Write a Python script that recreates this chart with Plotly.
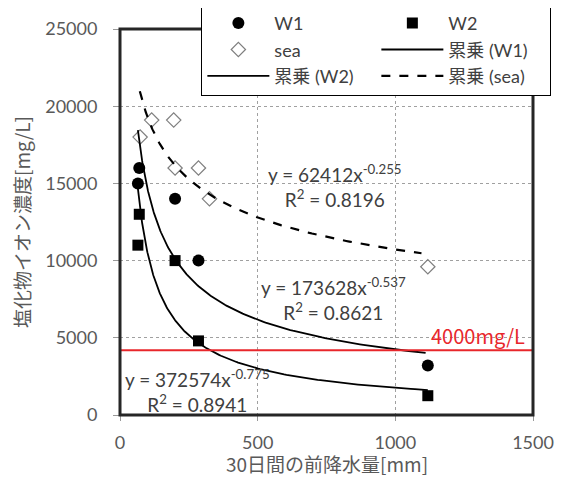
import numpy as np
import plotly.graph_objects as go

# ---- data ----
x_w1 = [65, 70, 200, 285, 1118]
y_w1 = [15000, 16000, 14000, 10000, 3200]

x_w2 = [70, 65, 200, 285, 1118]
y_w2 = [13000, 11000, 10000, 4800, 1250]

x_sea = [73, 115, 195, 200, 285, 325, 1118]
y_sea = [18000, 19100, 19100, 16000, 16000, 14000, 9600]

# power trendlines shown on the chart (y = a * x^b)
fit_w1 = (173628, -0.537, 0.8621)
fit_w2 = (372574, -0.775, 0.8941)
fit_sea = (62412, -0.255, 0.8196)
curve_x_range = {"w1": (65, 1110), "w2": (65, 1118), "sea": (72, 1095)}

threshold = 4200
threshold_label = "4000mg/L"

x_ticks = [0, 500, 1000, 1500]
x_ticktext = ["0", "500", "1000", "1500"]
y_ticks = [0, 5000, 10000, 15000, 20000, 25000]
y_ticktext = ["0", "5000", "10000", "15000", "20000", "25000"]
x_title = "30日間の前降水量[mm]"
y_title = "塩化物イオン濃度[mg/L]"

LATIN = "Lato, 'Noto Sans CJK JP', sans-serif"
CJK = "'Noto Sans CJK JP', sans-serif"
GREY = "#595959"


def trend(fit, rng):
    a, b, _ = fit
    xs = np.geomspace(rng[0], rng[1], 200)
    return xs, a * xs ** b


fig = go.Figure()

fig.add_trace(go.Scatter(x=x_w1, y=y_w1, mode="markers", name="W1",
                         marker=dict(symbol="circle", size=12, color="black")))
fig.add_trace(go.Scatter(x=x_w2, y=y_w2, mode="markers", name="W2",
                         marker=dict(symbol="square", size=11, color="black")))
fig.add_trace(go.Scatter(x=x_sea, y=y_sea, mode="markers", name="sea",
                         marker=dict(symbol="diamond-open", size=11,
                                     color="#7f7f7f", line=dict(width=1.2))))

cx, cy = trend(fit_w1, curve_x_range["w1"])
fig.add_trace(go.Scatter(x=cx, y=cy, mode="lines", name="累乗 (W1)",
                         line=dict(color="black", width=1.8)))
cx, cy = trend(fit_w2, curve_x_range["w2"])
fig.add_trace(go.Scatter(x=cx, y=cy, mode="lines", name="累乗 (W2)",
                         line=dict(color="black", width=1.8)))
cx, cy = trend(fit_sea, curve_x_range["sea"])
fig.add_trace(go.Scatter(x=cx, y=cy, mode="lines", name="累乗 (sea)",
                         line=dict(color="black", width=2.2, dash="dash")))

# threshold line
fig.add_hline(y=threshold, line=dict(color="#e8262b", width=2), layer="above")
fig.add_annotation(x=1122, y=threshold, xref="x", yref="y", text=threshold_label,
                   showarrow=False, xanchor="left", yanchor="bottom", yshift=-2,
                   font=dict(family=CJK, size=20, color="#e8262b"))


def eq_text(fit):
    a, b, r2 = fit
    return f"y = {a}x<sup>{b}</sup><br>R<sup>2</sup> = {r2:.4f}"


for fit, (ax, ay) in [(fit_sea, (781, 14800)), (fit_w1, (774, 7530)), (fit_w2, (282, 1560))]:
    fig.add_annotation(x=ax, y=ay, xref="x", yref="y", text=eq_text(fit),
                       showarrow=False, align="center",
                       font=dict(family=LATIN, size=19, color="#404040"))

# x-axis title as a paper annotation below the tick labels
fig.add_annotation(x=0.5, y=-0.1244, xref="paper", yref="paper", text=x_title,
                   showarrow=False, xanchor="center", yanchor="middle",
                   font=dict(family=CJK, size=19, color=GREY))

# plot frame
fig.add_shape(type="rect", xref="paper", yref="paper", x0=0, x1=1, y0=0, y1=1,
              line=dict(color="#262626", width=3), layer="above")

# the page body adds an 8px margin, so the figure is 16px smaller than the window
fig.update_layout(
    width=549, height=468,
    margin=dict(l=112, r=24, t=21, b=61, autoexpand=False),
    paper_bgcolor="white", plot_bgcolor="white",
    font=dict(family=LATIN, size=18, color=GREY),
    showlegend=True,
    legend=dict(orientation="h", x=0.197, y=1.065, xanchor="left", yanchor="top",
                bgcolor="white", bordercolor="black", borderwidth=1,
                font=dict(family=LATIN, size=18, color="#404040"),
                entrywidth=97, entrywidthmode="pixels", itemwidth=62,
                traceorder="normal"),
)

fig.update_xaxes(range=[0, 1500], tickmode="array", tickvals=x_ticks, ticktext=x_ticktext,
                 showline=False, zeroline=False, automargin=False,
                 showgrid=True, gridcolor="#a0a0a0", griddash="dot", gridwidth=1,
                 ticks="outside", ticklen=5, tickcolor="#999999",
                 ticklabelstandoff=6,
                 tickfont=dict(family=LATIN, size=18, color=GREY))
fig.update_yaxes(range=[0, 25000], tickmode="array", tickvals=y_ticks, ticktext=y_ticktext,
                 showline=False, zeroline=False, automargin=False,
                 showgrid=True, gridcolor="#a0a0a0", griddash="dot", gridwidth=1,
                 ticks="outside", ticklen=6, tickcolor="#999999",
                 ticklabelstandoff=12,
                 tickfont=dict(family=LATIN, size=18, color=GREY),
                 title=dict(text=y_title, standoff=9,
                            font=dict(family=CJK, size=19, color=GREY)))

fig.write_html("out.html")
